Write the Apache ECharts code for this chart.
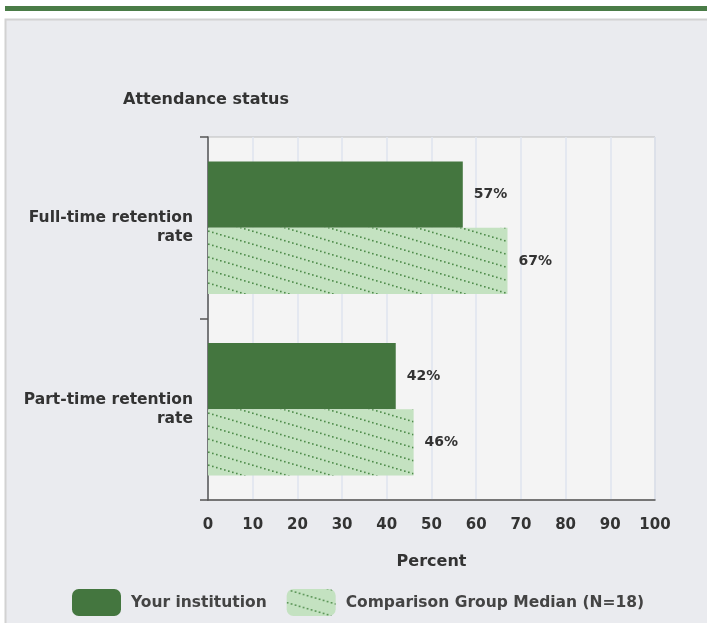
<!DOCTYPE html>
<html>
<head>
<meta charset="utf-8">
<script src="https://cdn.jsdelivr.net/npm/echarts@6/dist/echarts.min.js"></script>
<style>
html,body{margin:0;padding:0;background:#fff;}
#c{width:707px;height:623px;}
</style>
</head>
<body>
<div id="c"></div>
<script>
const categories = ['Full-time retention\nrate', 'Part-time retention\nrate'];
const yourInstitution = [57, 42];
const comparisonMedian = [67, 46];
const seriesNames = ['Your institution', 'Comparison Group Median (N=18)'];
const xTicks = [0, 10, 20, 30, 40, 50, 60, 70, 80, 90, 100];

function makePattern() {
  const w = 44, h = 13;
  const cv = document.createElement('canvas');
  cv.width = w; cv.height = h;
  const ctx = cv.getContext('2d');
  ctx.fillStyle = '#c4e2c1';
  ctx.fillRect(0, 0, w, h);
  ctx.fillStyle = '#4f8c4b';
  for (let x = 0; x < w; x += 4) {
    const y = x * h / w;
    ctx.fillRect(x, y, 1.6, 1.6);
    ctx.fillRect(x, y - h, 1.6, 1.6);
  }
  return cv;
}
const pattern = { image: makePattern(), repeat: 'repeat' };

const chart = echarts.init(document.getElementById('c'));
const font = 'DejaVu Sans, sans-serif';
chart.setOption({
  animation: false,
  textStyle: { fontFamily: font },
  graphic: [
    { type: 'rect', shape: { x: 5, y: 6, width: 702, height: 5 }, style: { fill: '#4a7c47' }, z: -10 },
    { type: 'rect', shape: { x: 5.5, y: 19.5, width: 710, height: 620 }, style: { fill: '#eaebef', stroke: '#d2d2d2', lineWidth: 2 }, z: -10 }
  ],
  title: {
    text: 'Attendance status',
    left: 118, top: 87,
    textStyle: { fontSize: 16, fontWeight: 'bold', color: '#333', fontFamily: font }
  },
  legend: {
    bottom: 2,
    left: 67,
    itemWidth: 49, itemHeight: 27, itemGap: 20,
    icon: 'roundRect',
    textStyle: { fontSize: 15.5, fontWeight: 'bold', color: '#444', fontFamily: font, padding: [0, 0, 0, 5] },
    data: seriesNames
  },
  grid: {
    left: 208, top: 137, right: 52, bottom: 123,
    show: true, backgroundColor: '#f4f4f4', borderColor: '#bdbdbd', borderWidth: 1
  },
  xAxis: {
    type: 'value', min: 0, max: 100, interval: 10,
    name: 'Percent', nameLocation: 'middle', nameGap: 54,
    nameTextStyle: { fontSize: 16, fontWeight: 'bold', color: '#333' },
    axisLine: { show: true, lineStyle: { color: '#555', width: 1.5 } },
    axisTick: { show: false },
    axisLabel: { fontSize: 15, fontWeight: 'bold', color: '#333', margin: 18,
      formatter: v => xTicks.includes(v) ? String(v) : '' },
    splitLine: { show: true, lineStyle: { color: '#dfe5ef', width: 1.5 } }
  },
  yAxis: {
    type: 'category', data: categories, inverse: true,
    axisLine: { show: true, lineStyle: { color: '#555', width: 1.5 } },
    axisTick: { show: true, length: 8, lineStyle: { color: '#555', width: 1.5 } },
    axisLabel: { fontSize: 15.5, fontWeight: 'bold', color: '#333', margin: 15, align: 'right', lineHeight: 19 },
    splitLine: { show: false }
  },
  series: [
    {
      name: seriesNames[0], type: 'bar', data: yourInstitution,
      barGap: '0%', barCategoryGap: '27%',
      itemStyle: { color: '#44763f' },
      label: { show: true, position: 'right', distance: 11, formatter: '{c}%', fontSize: 14, fontWeight: 'bold', color: '#333' }
    },
    {
      name: seriesNames[1], type: 'bar', data: comparisonMedian,
      barGap: '0%', barCategoryGap: '27%',
      itemStyle: { color: pattern },
      label: { show: true, position: 'right', distance: 11, formatter: '{c}%', fontSize: 14, fontWeight: 'bold', color: '#333' }
    }
  ]
});
</script>
</body>
</html>
